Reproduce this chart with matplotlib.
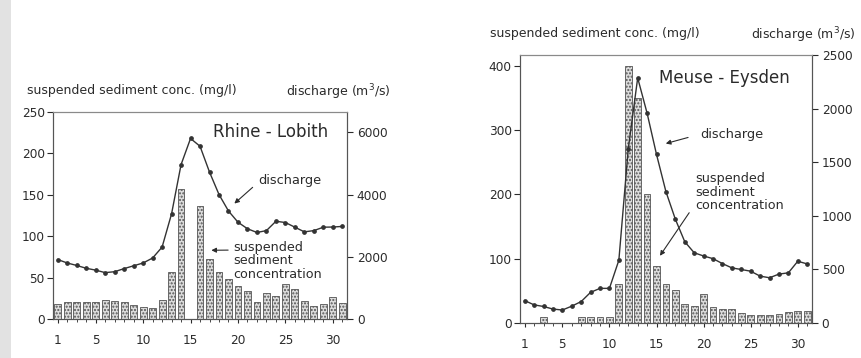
import matplotlib
matplotlib.use("Agg")
import matplotlib.pyplot as plt
from matplotlib.patches import Rectangle

days = list(range(1, 32))

# Rhine at Lobith
rhine_ssc = [18, 20, 20, 20, 21, 23, 22, 21, 17, 15, 13, 23, 57, 157, 0, 137,
             73, 57, 48, 40, 34, 21, 31, 28, 42, 36, 22, 16, 18, 27, 19]
rhine_q = [1910, 1800, 1720, 1630, 1570, 1490, 1520, 1620, 1710, 1800, 1960,
           2310, 3380, 4960, 5800, 5550, 4720, 4000, 3470, 3110, 2900, 2780,
           2840, 3140, 3100, 2950, 2800, 2840, 2950, 2955, 2975]

# Meuse at Eysden
meuse_ssc = [0, 0, 10, 0, 0, 0, 10, 10, 10, 10, 61, 400, 350, 200, 88, 61,
             52, 29, 26, 45, 25, 21, 22, 15, 13, 12, 12, 14, 17, 18, 18]
meuse_q = [209, 169, 154, 130, 121, 157, 200, 286, 323, 323, 585, 1624, 2286,
           1957, 1572, 1225, 968, 758, 655, 625, 600, 554, 514, 499, 483, 437,
           422, 456, 468, 576, 551]

day_ticks = [1, 5, 10, 15, 20, 25, 30]

INK = "#2b2b2b"
plt.rcParams["font.family"] = ["DejaVu Sans"]
plt.rcParams["text.color"] = INK

fig = plt.figure(figsize=(8.62, 3.58), dpi=100)
fig.patch.set_facecolor("white")
# shadow of the page gutter on the left edge
fig.patches.append(Rectangle((0, 0), 11 / 862, 1, transform=fig.transFigure,
                             facecolor="#e2e2e2", edgecolor="none", zorder=0))


def panel(rect, ssc, q, ssc_max, q_max, ssc_ticks, q_ticks):
    ax = fig.add_axes(rect)
    ax.bar(days, ssc, width=0.72, facecolor="#dcdcdc", edgecolor="#555555",
           hatch=".....", linewidth=0.6, zorder=2)
    ax.set_xlim(0.5, 31.5)
    ax.set_ylim(0, ssc_max)
    ax.set_xticks(day_ticks)
    ax.set_xticks(days, minor=True)
    ax.set_yticks(ssc_ticks)
    ax.tick_params(axis="x", which="major", length=3, pad=8, labelsize=8.7,
                   colors=INK)
    ax.tick_params(axis="x", which="minor", length=2, colors=INK)
    ax.tick_params(axis="y", length=4, pad=2, labelsize=8.7, colors=INK)

    ax2 = ax.twinx()
    ax2.plot(days, q, color="#333333", lw=1.0, marker="o", ms=2.4, zorder=3)
    ax2.set_ylim(0, q_max)
    ax2.set_yticks(q_ticks)
    ax2.tick_params(axis="y", length=4, pad=3, labelsize=8.7, colors=INK)

    for a in (ax, ax2):
        a.spines["top"].set_color("#8a8a8a")
        a.spines["top"].set_linewidth(0.8)
        for s in ("left", "right", "bottom"):
            a.spines[s].set_color("#555555")
            a.spines[s].set_linewidth(0.8)
    return ax, ax2


arrow = dict(arrowstyle="-|>", color=INK, lw=0.8, mutation_scale=7)

# left panel: Rhine
ax, ax2 = panel([0.0615, 0.1089, 0.3411, 0.5782], rhine_ssc, rhine_q,
                250, 6650, [0, 50, 100, 150, 200, 250], [0, 2000, 4000, 6000])
ax.text(-0.09, 1.105, "suspended sediment conc. (mg/l)", transform=ax.transAxes,
        fontsize=9, va="center", ha="left")
ax.text(1.147, 1.097, "discharge (m$^3$/s)", transform=ax.transAxes,
        fontsize=9, va="center", ha="right")
ax.text(0.545, 0.905, "Rhine - Lobith", transform=ax.transAxes, fontsize=12,
        va="center", ha="left")
ax.text(0.697, 0.667, "discharge", transform=ax.transAxes, fontsize=9.3,
        va="center", ha="left")
ax2.annotate("", xy=(19.4, 3650), xytext=(0.686, 0.645),
             textcoords="axes fraction", arrowprops=arrow)
ax.text(0.612, 0.378, "suspended\nsediment\nconcentration",
        transform=ax.transAxes, fontsize=9.2, va="top", ha="left",
        linespacing=1.05)
ax.annotate("", xy=(16.9, 83), xytext=(0.605, 0.333),
            textcoords="axes fraction", arrowprops=arrow)

# right panel: Meuse
bx, bx2 = panel([0.6032, 0.0978, 0.3387, 0.7486], meuse_ssc, meuse_q,
                417, 2500, [0, 100, 200, 300, 400],
                [0, 500, 1000, 1500, 2000, 2500])
bx.text(-0.103, 1.082, "suspended sediment conc. (mg/l)", transform=bx.transAxes,
        fontsize=9, va="center", ha="left")
bx.text(1.151, 1.075, "discharge (m$^3$/s)", transform=bx.transAxes,
        fontsize=9, va="center", ha="right")
bx.text(0.476, 0.914, "Meuse - Eysden", transform=bx.transAxes, fontsize=12,
        va="center", ha="left")
bx.text(0.616, 0.705, "discharge", transform=bx.transAxes, fontsize=9.3,
        va="center", ha="left")
bx2.annotate("", xy=(15.7, 1667), xytext=(0.585, 0.695),
             textcoords="axes fraction", arrowprops=arrow)
bx.text(0.599, 0.563, "suspended\nsediment\nconcentration",
        transform=bx.transAxes, fontsize=9.2, va="top", ha="left",
        linespacing=1.05)
bx.annotate("", xy=(15.2, 101), xytext=(0.585, 0.42),
            textcoords="axes fraction", arrowprops=arrow)

fig.savefig("out.png", dpi=100)
